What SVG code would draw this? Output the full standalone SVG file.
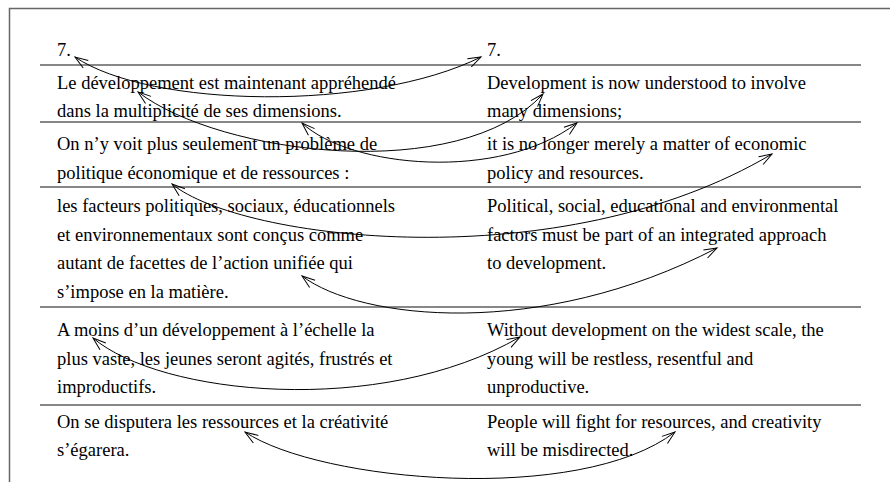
<svg xmlns="http://www.w3.org/2000/svg" width="890" height="482" viewBox="0 0 890 482">
<defs>
<style>
.t{font-family:"Liberation Serif","Times New Roman",serif;font-size:18.5px;fill:#000}
.rule{stroke:#111;stroke-width:1.2;fill:none}
.frame{stroke:#666;stroke-width:1.5;fill:none}
.c{stroke:#000;stroke-width:1;fill:none;marker-start:url(#ah);marker-end:url(#ah)}
</style>
<marker id="ah" markerUnits="userSpaceOnUse" markerWidth="16" markerHeight="12" refX="13" refY="5" orient="auto-start-reverse" overflow="visible">
<path d="M0,0.5 L13,5 L0,9.5" fill="none" stroke="#000" stroke-width="1"/>
</marker>
</defs>
<rect width="890" height="482" fill="#fff"/>
<path class="frame" d="M9.5,482 V8.5 H890"/>
<g id="rules">
<line class="rule" x1="40" y1="65" x2="861" y2="65"/>
<line class="rule" x1="40" y1="122" x2="861" y2="122"/>
<line class="rule" x1="40" y1="187" x2="861" y2="187"/>
<line class="rule" x1="40" y1="307" x2="861" y2="307"/>
<line class="rule" x1="40" y1="405" x2="861" y2="405"/>
</g>
<g id="fr0"><text class="t" x="57" y="56">7.</text></g>
<g id="fr1"><text class="t" x="57" y="89">Le développement est maintenant appréhendé</text><text class="t" x="57" y="117">dans la multiplicité de ses dimensions.</text></g>
<g id="fr2"><text class="t" x="57" y="150">On n’y voit plus seulement un problème de</text><text class="t" x="57" y="179">politique économique et de ressources :</text></g>
<g id="fr3"><text class="t" x="57" y="212">les facteurs politiques, sociaux, éducationnels</text><text class="t" x="57" y="241">et environnementaux sont conçus comme</text><text class="t" x="57" y="269">autant de facettes de l’action unifiée qui</text><text class="t" x="57" y="298">s’impose en la matière.</text></g>
<g id="fr4"><text class="t" x="57" y="336">A moins d’un développement à l’échelle la</text><text class="t" x="57" y="365">plus vaste, les jeunes seront agités, frustrés et</text><text class="t" x="57" y="393">improductifs.</text></g>
<g id="fr5"><text class="t" x="57" y="428">On se disputera les ressources et la créativité</text><text class="t" x="57" y="456">s’égarera.</text></g>
<g id="en0"><text class="t" x="487" y="56">7.</text></g>
<g id="en1"><text class="t" x="487" y="89">Development is now understood to involve</text><text class="t" x="487" y="117">many dimensions;</text></g>
<g id="en2"><text class="t" x="487" y="150">it is no longer merely a matter of economic</text><text class="t" x="487" y="179">policy and resources.</text></g>
<g id="en3"><text class="t" x="487" y="212">Political, social, educational and environmental</text><text class="t" x="487" y="241">factors must be part of an integrated approach</text><text class="t" x="487" y="269">to development.</text></g>
<g id="en4"><text class="t" x="487" y="336">Without development on the widest scale, the</text><text class="t" x="487" y="365">young will be restless, resentful and</text><text class="t" x="487" y="393">unproductive.</text></g>
<g id="en5"><text class="t" x="487" y="428">People will fight for resources, and creativity</text><text class="t" x="487" y="456">will be misdirected.</text></g>
<g id="connectors">
<path class="c" d="M75,57 C150,108 370,112 481,57"/>
<path class="c" d="M138,92 C220,155 460,185 543,94"/>
<path class="c" d="M302,123 C350,168 500,182 577,123"/>
<path class="c" d="M172,184 C240,240 560,280 772,154"/>
<path class="c" d="M302,276 C360,320 540,340 717,248"/>
<path class="c" d="M93,338 C160,395 380,418 520,337"/>
<path class="c" d="M245,432 C320,482 580,505 675,432"/>
</g>
</svg>
